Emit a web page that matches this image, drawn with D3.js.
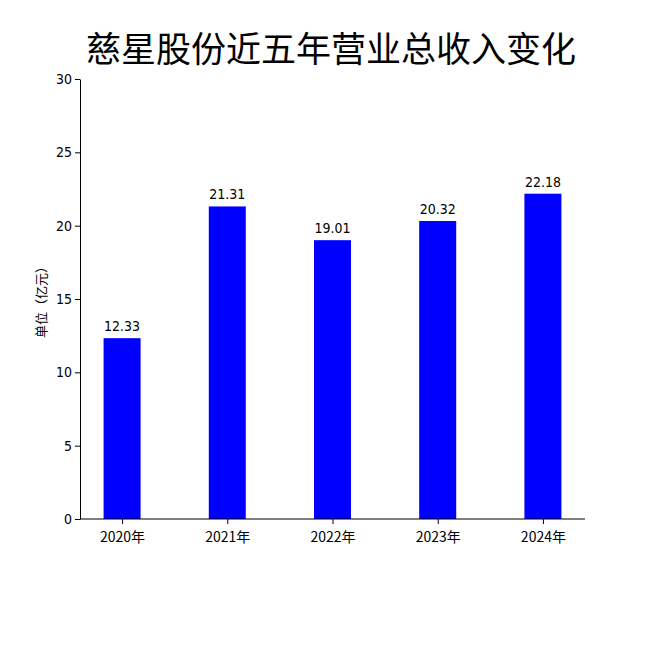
<!DOCTYPE html><html><head><meta charset="utf-8"><script src="https://cdn.jsdelivr.net/npm/d3@7"></script>
<style>body{margin:0;background:#fff}text{font-family:"DejaVu Sans Condensed","Noto Sans","Noto Sans CJK SC",sans-serif}</style></head><body>
<svg id="c" width="650" height="650"></svg>
<script>
const categories=["2020年","2021年","2022年","2023年","2024年"];
const values=[12.33,21.31,19.01,20.32,22.18];
const yTicks=[0,5,10,15,20,25,30];
const svg=d3.select("#c");
const L=80,R=585,T=79,B=519;
const x=d3.scalePoint().domain(categories).range([L,R]).padding(0.4);
const y=d3.scaleLinear().domain([0,30]).range([B,T]);
const bw=37;
svg.append("text").attr("x",331).attr("y",62).attr("text-anchor","middle").attr("font-size",35).style("font-family","Noto Sans CJK SC").text("慈星股份近五年营业总收入变化");
svg.selectAll("rect").data(values).join("rect").attr("x",(d,i)=>x(categories[i])-bw/2).attr("y",d=>y(d)).attr("width",bw).attr("height",d=>B-y(d)).attr("fill","#0000ff");
svg.selectAll(".lbl").data(values).join("text").attr("x",(d,i)=>x(categories[i])).attr("y",d=>y(d)-7).attr("text-anchor","middle").attr("font-size",14).text(d=>d.toFixed(2));
const ya=svg.append("g").attr("transform",`translate(${L},0)`).call(d3.axisLeft(y).tickValues(yTicks).tickSize(5).tickSizeOuter(0));
const xa=svg.append("g").attr("transform",`translate(0,${B})`).call(d3.axisBottom(x).tickSize(5).tickSizeOuter(0));
xa.select(".domain").attr("d",`M${L},0H${R}`);
[ya,xa].forEach(a=>a.selectAll("text").attr("font-size",14).attr("fill","#000"));
xa.selectAll("text").style("font-family","Noto Sans CJK SC").attr("dy","1.1em");
svg.append("text").attr("transform","translate(46,299) rotate(-90)").attr("text-anchor","middle").attr("font-size",13).style("font-family","Noto Sans CJK SC").text("单位（亿元）");
</script></body></html>
